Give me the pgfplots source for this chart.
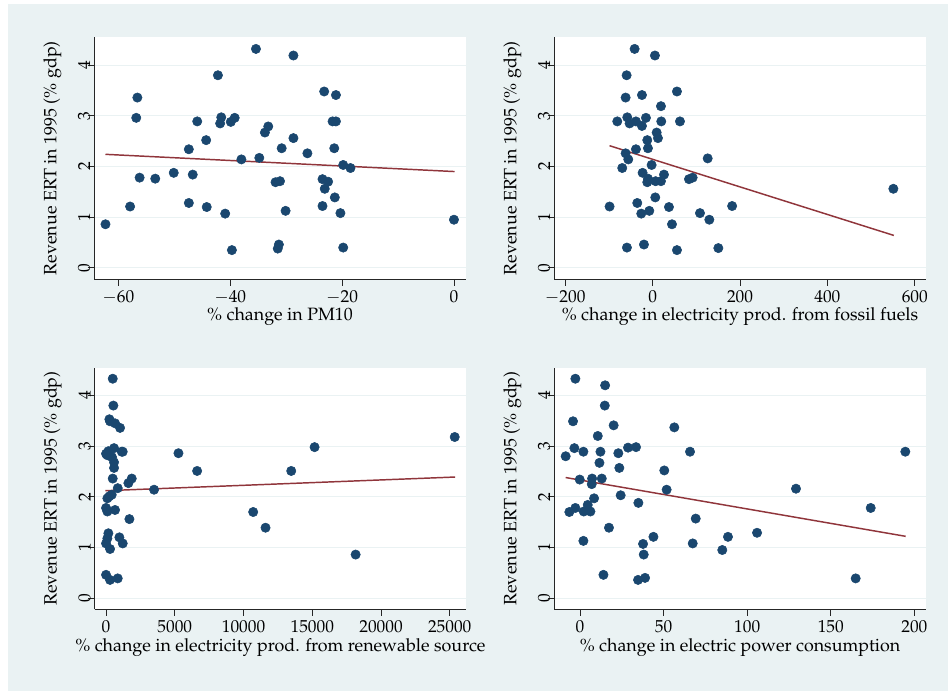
\documentclass[border=0pt]{standalone}
\usepackage[T1]{fontenc}
\usepackage{mathpazo}
\usepackage{pgfplots}
\pgfplotsset{compat=1.18}
\definecolor{bg}{RGB}{234,242,243}
\definecolor{gridc}{RGB}{234,242,243}
\definecolor{navy}{RGB}{26,71,111}
\definecolor{maroon}{RGB}{144,53,59}
\pgfplotsset{stata/.style={
  scale only axis, width=278.55pt, height=181.3pt,
  axis x line*=bottom, axis y line*=left,
  axis line style={black!85, line width=0.6pt, -},
  axis background/.style={fill=white},
  tick align=outside, major tick length=5pt,
  tick style={black!85, line width=0.6pt},
  ymin=-0.22, ymax=4.55, ytick={0,1,2,3,4},
  ymajorgrids, major grid style={gridc, line width=0.9pt},
  yticklabel style={xshift=5.5pt, rotate=90, anchor=south},
  tick label style={font=\fontsize{13}{15}\selectfont},
  label style={font=\fontsize{13.4}{16}\selectfont},
  ylabel={Revenue ERT in 1995 (\% gdp)},
  ylabel style={at={(axis description cs:-0.113,0.5)}, anchor=center},
  xlabel style={at={(axis description cs:0.5,-0.157)}, anchor=center},
  /pgf/number format/1000 sep={},
  scaled x ticks=false,
  clip=false,
}}
\pgfplotsset{dots/.style={only marks, mark=*, mark size=3.5pt, draw=navy, fill=navy, mark options={draw=navy, fill=navy}},
  fit/.style={maroon, line width=1.1pt, no marks}}

\pgfplotstableread{
x y
-62.3 0.86
-57.9 1.21
-56.6 3.36
-56.8 2.96
-56.2 1.78
-53.4 1.76
-50.1 1.875
-47.4 2.34
-47.4 1.28
-46.7 1.84
-45.9 2.89
-44.3 2.52
-44.2 1.20
-42.2 3.80
-41.6 2.97
-41.8 2.85
-40.9 1.07
-39.9 2.88
-39.2 2.96
-39.7 0.35
-38.0 2.14
-35.4 4.32
-34.8 2.17
-33.8 2.67
-33.2 2.79
-31.9 1.69
-31.1 1.71
-31.3 0.46
-31.5 0.38
-30.8 2.36
-30.1 1.125
-28.7 4.19
-28.7 2.56
-26.2 2.26
-23.5 1.75
-23.5 1.22
-23.2 3.48
-23.1 1.56
-22.5 1.70
-21.7 2.89
-21.1 2.89
-21.4 2.36
-21.1 3.41
-21.3 1.39
-20.3 1.08
-19.8 2.03
-19.8 0.40
-18.5 1.97
0.0 0.95
}\pmten

\pgfplotstableread{
x y
-41.2 4.32
5.3 4.19
-59.5 3.80
-61.8 3.36
-24.4 3.41
55.7 3.48
19.1 3.19
-80.9 2.89
-58.0 2.97
-52.7 2.85
-38.2 2.89
-24.4 2.80
-15.3 2.96
19.8 2.89
62.6 2.89
9.2 2.67
12.2 2.56
-12.2 2.52
-38.2 2.34
-10.7 2.36
-61.8 2.26
-55.7 2.14
-69.5 1.97
-2.3 2.03
126.0 2.16
-22.9 1.875
26.0 1.84
-10.7 1.76
-12.2 1.69
6.9 1.71
19.1 1.71
83.2 1.75
91.6 1.78
551.0 1.56
6.1 1.39
-98.5 1.21
-35.1 1.28
37.4 1.20
182.0 1.22
-26.0 1.07
-7.6 1.125
108.4 1.08
129.8 0.95
44.3 0.86
-58.8 0.40
-19.8 0.46
55.7 0.35
150.4 0.39
}\fossil

\pgfplotstableread{
x y
487 4.33
533 3.80
243 3.53
291 3.49
655 3.45
1019 3.36
0 2.85
97 2.82
170 2.90
243 2.89
582 2.96
1140 2.89
1213 2.89
437 2.78
582 2.68
582 2.57
485 2.36
850 2.17
1626 2.27
1869 2.36
3494 2.14
243 2.01
413 2.04
97 1.97
0 1.78
97 1.71
655 1.74
1699 1.56
170 1.28
97 1.18
0 1.08
291 0.97
971 1.20
1213 1.08
0 0.46
291 0.36
850 0.39
5267 2.86
6626 2.51
13470 2.51
15169 2.98
25362 3.18
10703 1.70
11601 1.39
18154 0.86
}\renew

\pgfplotstableread{
x y
-2.8 4.33
15.0 4.20
14.8 3.80
-4.2 3.49
20.1 3.41
56.4 3.37
10.6 3.20
-8.6 2.80
-3.4 2.96
2.0 2.89
12.2 2.89
11.6 2.67
22.9 2.86
28.7 2.97
33.5 2.98
23.5 2.57
50.4 2.52
65.8 2.89
194.6 2.89
-0.2 2.34
7.2 2.36
7.0 2.25
13.0 2.36
51.8 2.14
129.2 2.16
24.3 2.03
8.4 1.97
34.9 1.88
-6.4 1.70
-2.8 1.78
2.2 1.71
4.6 1.84
6.2 1.71
173.9 1.78
69.2 1.57
17.3 1.39
2.0 1.13
43.9 1.21
37.7 1.07
38.1 0.86
67.4 1.08
85.1 0.95
88.5 1.21
105.9 1.29
14.0 0.46
34.7 0.36
38.9 0.40
164.9 0.39
}\power

\begin{document}
\begin{tikzpicture}[x=0.75pt,y=0.75pt]
\useasboundingbox (0,0) rectangle (948,-691);
\fill[white] (0,0) rectangle (948,-691);
\fill[bg] (8,-4) rectangle (948,-691);
\coordinate (P1) at (94.3,-279);
\coordinate (P2) at (554.3,-279);
\coordinate (P3) at (94.7,-609.3);
\coordinate (P4) at (554.3,-609.3);

\begin{axis}[stata, at={(P1)}, anchor=south west,
  xmin=-64.3, xmax=2.1, xtick={-60,-40,-20,0},
  xlabel={\% change in PM10}]
\addplot[dots] table {\pmten};
\addplot[fit] coordinates {(-62.3,2.24) (0.1,1.90)};
\end{axis}

\begin{axis}[stata, at={(P2)}, anchor=south west,
  xmin=-225, xmax=625, xtick={-200,0,200,400,600},
  xlabel={\% change in electricity prod. from fossil fuels}]
\addplot[dots] table {\fossil};
\addplot[fit] coordinates {(-98.5,2.41) (552,0.64)};
\end{axis}

\begin{axis}[stata, at={(P3)}, anchor=south west,
  xmin=-825, xmax=26190, xtick={0,5000,10000,15000,20000,25000},
  xlabel={\% change in electricity prod. from renewable source}]
\addplot[dots] table {\renew};
\addplot[fit] coordinates {(-49,2.12) (25386,2.39)};
\end{axis}

\begin{axis}[stata, at={(P4)}, anchor=south west,
  xmin=-15.4, xmax=206.8, xtick={0,50,100,150,200},
  xlabel={\% change in electric power consumption}]
\addplot[dots] table {\power};
\addplot[fit] coordinates {(-8.6,2.38) (194.8,1.22)};
\end{axis}
\end{tikzpicture}
\end{document}
